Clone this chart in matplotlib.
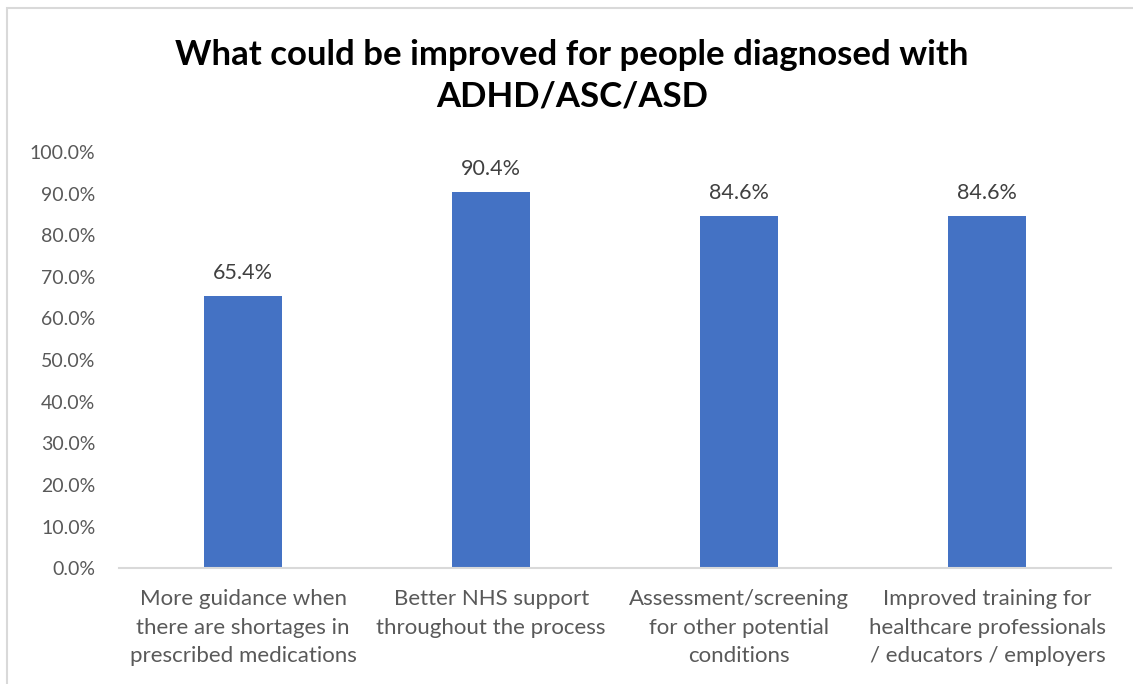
import matplotlib.pyplot as plt
from matplotlib.patches import Rectangle
from matplotlib.ticker import FuncFormatter, MultipleLocator

categories = ["More guidance when\nthere are shortages in\nprescribed medications",
              "Better NHS support\nthroughout the process",
              "Assessment/screening\nfor other potential\nconditions",
              "Improved training for\nhealthcare professionals\n/ educators / employers"]
values = [65.4, 90.4, 84.6, 84.6]
title = "What could be improved for people diagnosed with\nADHD/ASC/ASD"

plt.rcParams['font.family'] = ['Lato', 'DejaVu Sans']
grey = "#595959"

fig = plt.figure(figsize=(11.33, 6.84), dpi=100)
ax = fig.add_axes([0.105, 0.169, 0.876, 0.609])

x = range(len(categories))
bars = ax.bar(x, values, width=0.315, color="#4472C4", zorder=2)
for b, v in zip(bars, values):
    ax.annotate("%.1f%%" % v, (b.get_x() + b.get_width() / 2, v),
                xytext=(0, 9), textcoords="offset points",
                ha="center", va="bottom", fontsize=15.5, color="#404040")

ax.set_xlim(-0.5, len(categories) - 0.5)
ax.set_ylim(0, 100)
ax.yaxis.set_major_locator(MultipleLocator(10))
ax.yaxis.set_major_formatter(FuncFormatter(lambda v, p: "%.1f%%" % v))
ax.set_xticks(list(x))
ax.set_xticklabels(categories, fontsize=16, color=grey, linespacing=1.53)
ax.tick_params(axis="y", labelsize=14, labelcolor=grey, length=0, pad=17)
ax.tick_params(axis="x", length=0, pad=15)

for s in ["top", "right", "left"]:
    ax.spines[s].set_visible(False)
ax.spines["bottom"].set_color("#D9D9D9")
ax.spines["bottom"].set_linewidth(1.5)

fig.text(0.505, 0.889, title, ha="center", va="center", fontsize=25,
         fontweight="bold", color="black", linespacing=1.35)

# chart area border
fig.patches.append(Rectangle((7 / 1133, -0.1), 1.2, 1.1 - 8 / 684,
                             transform=fig.transFigure, fill=False,
                             edgecolor="#D9D9D9", linewidth=1.5))

fig.savefig("out.png", dpi=100)
